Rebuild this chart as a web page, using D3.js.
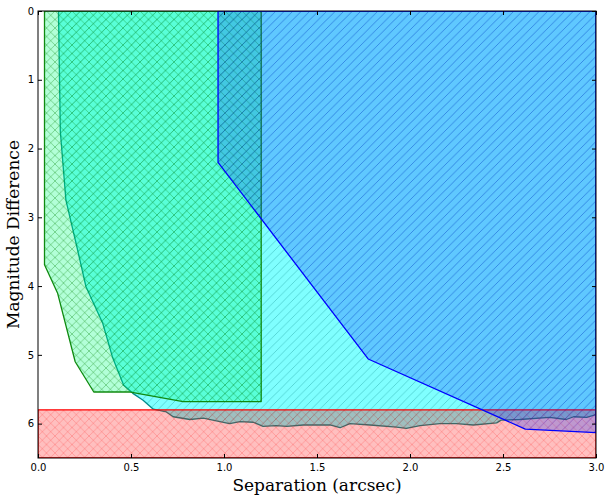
<!DOCTYPE html>
<html>
<head>
<meta charset="utf-8">
<script src="https://cdn.jsdelivr.net/npm/d3@7"></script>
<style>
  body { margin: 0; background: #fff; }
</style>
</head>
<body>
<div class="graphArea"></div>
<script>
// separation (arcsec) vs magnitude difference, four exclusion regions
const xTicks = [0.0, 0.5, 1.0, 1.5, 2.0, 2.5, 3.0];
const yTicks = [0, 1, 2, 3, 4, 5, 6];

// red band (faint limit)
const redSep = [0.0, 3.0, 3.0, 0.0];
const redDmag = [5.8, 5.8, 6.5, 6.5];

// cyan region (teal edge), closed along the top right
const cyanSep = [0.11, 0.12, 0.15, 0.204, 0.258, 0.348, 0.40, 0.46, 0.51, 0.565, 0.62,
  0.69, 0.727, 0.817, 0.889, 0.978, 1.03, 1.086, 1.157, 1.21, 1.28, 1.337, 1.426,
  1.57, 1.624, 1.677, 1.785, 1.928, 1.98, 2.054, 2.16, 2.25, 2.34, 2.466, 2.49,
  2.59, 2.75, 2.84, 2.88, 2.95, 3.0, 3.0];
const cyanDmag = [0.0, 1.75, 2.75, 3.37, 4.01, 4.54, 5.03, 5.44, 5.56, 5.66, 5.79,
  5.83, 5.9, 5.94, 5.92, 5.97, 6.0, 5.97, 5.98, 6.04, 6.03, 6.04, 6.02,
  6.02, 6.06, 6.0, 6.02, 6.05, 6.07, 6.03, 6.0, 6.0, 6.02, 5.99, 5.95,
  5.94, 5.91, 5.94, 5.9, 5.91, 5.87, 0.0];

// green region
const greenSep = [0.035, 0.035, 0.105, 0.2, 0.3, 0.49, 0.78, 1.2, 1.2];
const greenDmag = [0.0, 3.69, 4.1, 5.1, 5.54, 5.54, 5.68, 5.68, 0.0];

// blue region
const blueSep = [0.968, 0.968, 1.775, 2.62, 3.0, 3.0];
const blueDmag = [0.0, 2.2, 5.06, 6.08, 6.13, 0.0];

let margin = { top: 11, right: 14, bottom: 43, left: 38 };
let width = 610 - margin.left - margin.right,
  height = 501 - margin.top - margin.bottom;

const x = d3.scaleLinear().domain([0, 3]).range([0, width]);
const y = d3.scaleLinear().domain([0, 6.5]).range([0, height]);

const svg = d3
  .select(".graphArea")
  .append("svg")
  .attr("width", 610)
  .attr("height", 501);

const defs = svg.append("defs");

defs
  .append("clipPath")
  .attr("id", "plotClip")
  .append("rect")
  .attr("width", width)
  .attr("height", height);

// hatch tiles: "x" crosshatch, "/" single diagonal; same tile so they line up
const hatchSize = 8.5;
function hatch(id, kind, color, opacity) {
  const s = hatchSize;
  const p = defs
    .append("pattern")
    .attr("id", id)
    .attr("patternUnits", "userSpaceOnUse")
    .attr("width", s)
    .attr("height", s);
  let d = "";
  if (kind === "/" || kind === "x") {
    d += "M-1,1 l2,-2 M0," + s + " l" + s + "," + -s + " M" + (s - 1) + "," + (s + 1) + " l2,-2 ";
  }
  if (kind === "\\" || kind === "x") {
    d += "M-1," + (s - 1) + " l2,2 M0,0 l" + s + "," + s + " M" + (s - 1) + ",-1 l2,2";
  }
  p.append("path")
    .attr("d", d)
    .attr("stroke", color)
    .attr("stroke-opacity", opacity)
    .attr("stroke-width", 0.9)
    .attr("fill", "none");
}

hatch("hRed", "x", "#ff0000", 0.22);
hatch("hCyan", "/", "#008080", 0.35);
hatch("hGreen", "x", "#008000", 0.38);
hatch("hBlue", "/", "#0000ff", 0.2);

const g = svg
  .append("g")
  .attr("transform", "translate(" + margin.left + "," + margin.top + ")");

const plot = g.append("g").attr("clip-path", "url(#plotClip)");

const line = d3
  .line()
  .x(function(d) { return x(d[0]); })
  .y(function(d) { return y(d[1]); });

function region(sep, dmag, face, faceOpacity, pat, edge) {
  const pts = d3.zip(sep, dmag);
  const d = line(pts) + "Z";
  plot.append("path").attr("d", d).attr("fill", face).attr("fill-opacity", faceOpacity);
  plot.append("path").attr("d", d).attr("fill", "url(#" + pat + ")");
  plot
    .append("path")
    .attr("d", d)
    .attr("fill", "none")
    .attr("stroke", edge)
    .attr("stroke-width", 1.3)
    .attr("stroke-linejoin", "round");
}

region(cyanSep, cyanDmag, "#00ffff", 0.5, "hCyan", "#008b8b");
region(greenSep, greenDmag, "#00ff7f", 0.3, "hGreen", "#108a10");
region(redSep, redDmag, "#ff0000", 0.25, "hRed", "#ff0000");
region(blueSep, blueDmag, "#0022ff", 0.25, "hBlue", "#0000ff");

// axes, ticks pointing inward on all four sides
const tickFont = "DejaVu Sans, sans-serif";

g.append("g")
  .attr("transform", "translate(0," + height + ")")
  .call(d3.axisBottom(x).tickValues(xTicks).tickFormat(d3.format(".1f"))
    .tickSizeInner(-4).tickSizeOuter(0).tickPadding(6));
g.append("g")
  .call(d3.axisTop(x).tickValues(xTicks).tickFormat("")
    .tickSizeInner(-4).tickSizeOuter(0));
g.append("g")
  .call(d3.axisLeft(y).tickValues(yTicks).tickFormat(d3.format("d"))
    .tickSizeInner(-4).tickSizeOuter(0).tickPadding(4));
g.append("g")
  .attr("transform", "translate(" + width + ",0)")
  .call(d3.axisRight(y).tickValues(yTicks).tickFormat("")
    .tickSizeInner(-4).tickSizeOuter(0));

g.selectAll(".domain").remove();
g.selectAll(".tick line").attr("stroke", "#000");
g.selectAll(".tick text")
  .attr("fill", "#000")
  .style("font-family", tickFont)
  .style("font-size", "10px");

g.append("rect")
  .attr("width", width)
  .attr("height", height)
  .attr("fill", "none")
  .attr("stroke", "#000")
  .attr("stroke-width", 1);

svg
  .append("text")
  .attr("x", margin.left + width / 2)
  .attr("y", 491)
  .attr("text-anchor", "middle")
  .style("font-family", "DejaVu Serif, serif")
  .style("font-size", "17px")
  .text("Separation (arcsec)");

svg
  .append("text")
  .attr("transform", "translate(19," + (margin.top + height / 2) + ") rotate(-90)")
  .attr("text-anchor", "middle")
  .style("font-family", "DejaVu Serif, serif")
  .style("font-size", "17px")
  .text("Magnitude Difference");
</script>
</body>
</html>
